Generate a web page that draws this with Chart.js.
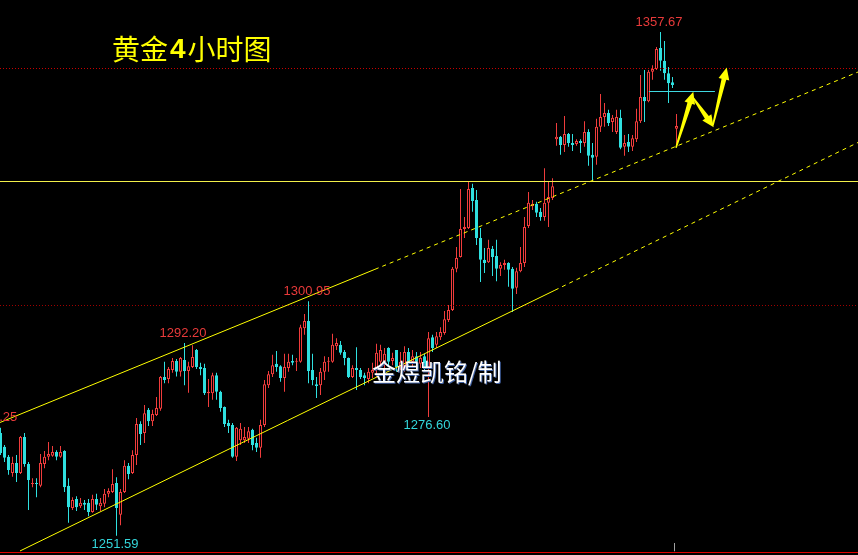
<!DOCTYPE html>
<html><head><meta charset="utf-8">
<script src="https://cdn.jsdelivr.net/npm/chart.js@4.4.0/dist/chart.umd.min.js"></script>
<style>html,body{margin:0;padding:0;background:#000;overflow:hidden}
#wrap{width:858px;height:555px;position:relative}
canvas{display:block}</style></head>
<body><div id="wrap"><canvas id="c" width="858" height="555"></canvas></div>
<script>
// ---- data (4-hour gold candles) ----
const opens=[1273.2,1270.3,1268.2,1264.8,1266.9,1264.8,1272.4,1266.7,1262.5,1262.7,
1262.1,1266.7,1268.2,1268.4,1269.2,1268.2,1269.4,1262.1,1257.4,1259.3,
1257.8,1258.5,1258.5,1256.6,1259.3,1257.8,1258.3,1260.4,1260.8,1262.7,
1256.0,1260.8,1266.3,1264.8,1268.6,1275.1,1273.2,1278.1,1275.7,1277.0,
1278.3,1285.0,1284.6,1286.5,1288.4,1286.1,1288.6,1286.3,1287.1,1290.7,
1287.1,1286.9,1281.6,1281.6,1285.4,1281.9,1278.7,1275.3,1274.9,1268.2,
1271.7,1271.7,1272.0,1273.9,1271.1,1270.1,1274.9,1283.3,1285.6,1287.8,
1287.3,1284.8,1286.9,1288.4,1288.2,1288.2,1295.3,1296.8,1286.5,1283.5,
1283.3,1286.1,1288.2,1288.2,1291.5,1291.8,1290.3,1289.0,1285.0,1286.9,
1286.5,1285.4,1284.6,1285.9,1286.5,1288.2,1288.2,1291.1,1288.4,1290.7,
1287.3,1286.9,1290.3,1288.2,1289.4,1287.8,1289.4,1287.1,1293.4,1291.8,
1293.4,1294.3,1297.0,1299.1,1307.8,1310.3,1316.2,1316.4,1324.8,1322.3,
1314.3,1309.7,1309.2,1312.0,1310.5,1307.8,1308.6,1309.0,1307.8,1303.8,
1307.3,1309.0,1316.8,1321.0,1321.5,1319.8,1318.7,1321.7,1322.7,1335.1,
1335.6,1333.9,1336.2,1334.3,1334.1,1334.7,1334.3,1336.6,1331.8,1331.4,
1337.7,1339.8,1340.6,1338.7,1336.6,1339.6,1333.5,1334.5,1333.5,1335.1,
1338.9,1344.0,1343.1,1349.3,1349.9,1354.3,1351.6,1349.0,1347.1,1337.3];
const highs=[1274.3,1270.7,1268.6,1268.2,1268.6,1272.6,1273.2,1267.1,1263.7,1263.7,
1268.8,1269.4,1271.3,1270.5,1269.6,1270.5,1269.6,1263.7,1259.7,1259.9,
1259.5,1259.1,1259.3,1260.2,1260.4,1259.5,1261.4,1261.6,1265.6,1263.9,
1261.4,1267.5,1266.9,1269.6,1276.4,1275.7,1279.1,1278.5,1278.1,1280.8,
1285.2,1288.2,1287.1,1289.0,1288.8,1289.2,1292.20,1288.2,1291.7,1290.9,
1288.0,1287.8,1284.6,1285.9,1285.9,1282.1,1278.8,1276.0,1275.3,1274.5,
1275.3,1274.5,1274.5,1274.1,1272.2,1276.0,1284.4,1286.3,1289.7,1290.5,
1287.5,1289.9,1289.9,1289.7,1289.0,1296.0,1298.3,1300.95,1289.9,1285.0,
1286.9,1289.4,1289.2,1294.1,1293.2,1292.6,1290.7,1289.1,1287.5,1291.3,
1286.9,1285.9,1286.9,1288.0,1292.0,1291.8,1291.1,1291.3,1290.1,1290.7,
1290.3,1291.5,1291.1,1290.7,1290.3,1290.3,1289.9,1294.5,1293.9,1294.5,
1295.5,1298.9,1300.2,1308.2,1312.4,1324.6,1318.7,1326.1,1325.7,1324.4,
1316.4,1312.2,1313.9,1312.6,1313.9,1309.2,1309.7,1309.2,1308.2,1308.0,
1312.4,1318.7,1324.0,1322.3,1321.9,1320.6,1329.0,1326.1,1326.9,1338.5,
1335.8,1340.0,1336.4,1336.2,1335.1,1335.1,1338.9,1337.2,1334.3,1339.4,
1344.6,1342.7,1341.3,1340.2,1341.3,1341.3,1336.0,1336.2,1336.0,1341.5,
1348.6,1349.7,1349.7,1350.7,1354.5,1357.67,1355.8,1350.3,1348.2,1340.4];
const lows=[1268.6,1267.1,1264.4,1264.0,1262.9,1264.6,1266.1,1257.0,1261.8,1259.7,
1261.8,1265.8,1267.5,1268.2,1267.5,1268.0,1260.8,1254.3,1257.0,1256.8,
1257.4,1257.0,1255.7,1256.4,1257.0,1256.8,1257.6,1259.7,1260.6,1251.59,
1253.8,1260.6,1263.5,1264.6,1266.5,1270.7,1271.1,1274.7,1274.7,1276.8,
1277.9,1283.7,1283.7,1285.9,1285.1,1285.1,1283.3,1281.7,1286.9,1286.7,
1285.4,1281.2,1278.7,1280.2,1280.2,1277.7,1274.5,1273.2,1268.0,1267.3,
1270.7,1271.1,1271.1,1269.6,1269.2,1268.0,1274.5,1282.7,1285.0,1286.1,
1284.0,1281.9,1286.1,1287.5,1286.3,1288.0,1293.9,1283.7,1283.3,1280.6,
1281.2,1284.4,1286.1,1288.0,1290.7,1289.7,1287.5,1284.8,1284.8,1282.3,
1284.6,1283.3,1283.7,1284.8,1285.0,1286.9,1286.1,1287.5,1287.5,1286.1,
1286.5,1286.1,1287.3,1286.9,1286.5,1286.9,1286.1,1276.60,1290.3,1291.1,
1292.8,1293.9,1296.6,1298.9,1307.1,1310.2,1314.3,1316.2,1319.8,1312.8,
1305.0,1306.9,1309.0,1306.3,1305.2,1306.3,1307.6,1304.0,1298.7,1302.5,
1307.1,1308.2,1316.4,1320.2,1318.7,1317.9,1317.9,1316.6,1322.3,1333.7,
1331.8,1332.4,1333.5,1332.6,1333.7,1332.2,1333.5,1329.5,1326.5,1329.7,
1336.6,1337.7,1337.9,1336.6,1336.2,1333.0,1331.6,1332.4,1332.6,1334.5,
1338.5,1338.7,1342.9,1347.6,1349.7,1349.5,1347.6,1342.7,1345.9,1333.5];
const closes=[1269.0,1268.0,1265.4,1266.9,1264.8,1272.4,1266.7,1263.3,1262.7,1262.5,
1266.9,1268.2,1268.8,1269.2,1268.2,1269.2,1261.8,1257.6,1259.1,1257.6,
1258.5,1258.1,1256.6,1259.3,1258.1,1258.5,1260.4,1261.0,1262.5,1257.4,
1260.8,1266.3,1264.6,1268.6,1275.1,1273.0,1277.4,1275.7,1277.2,1278.5,
1285.0,1284.4,1286.7,1288.4,1286.1,1289.0,1286.3,1287.3,1289.2,1287.1,
1286.7,1281.6,1281.9,1285.4,1281.9,1278.5,1275.1,1274.7,1268.2,1274.3,
1274.1,1272.4,1273.6,1270.7,1270.1,1274.9,1283.5,1285.6,1287.5,1287.1,
1284.8,1287.1,1288.2,1288.0,1288.4,1295.5,1296.8,1286.3,1284.4,1283.1,
1286.1,1288.2,1288.4,1291.8,1292.2,1290.1,1289.0,1285.0,1286.9,1286.5,
1285.0,1284.8,1286.1,1286.5,1290.1,1290.7,1289.9,1288.2,1289.0,1287.1,
1288.2,1290.3,1288.2,1289.4,1288.2,1289.0,1286.9,1293.2,1291.1,1293.6,
1294.5,1297.2,1299.1,1307.8,1310.1,1316.2,1316.6,1324.6,1322.1,1314.3,
1309.7,1309.0,1312.2,1310.3,1307.8,1308.6,1309.0,1307.6,1303.6,1307.3,
1309.0,1316.6,1321.7,1321.5,1319.6,1318.7,1321.7,1322.9,1325.2,1335.6,
1333.9,1336.2,1334.3,1333.9,1334.7,1334.3,1336.6,1331.6,1331.2,1337.7,
1339.8,1340.6,1338.5,1339.6,1339.8,1333.3,1334.3,1333.5,1335.3,1338.9,
1344.0,1343.1,1349.3,1349.9,1354.1,1351.6,1349.0,1346.9,1346.5,1337.9];
// marked extremes: candle index and whether the high or low is labelled
const markIdx=[165,77,46,107,29];
const markKind=['high','high','high','low','low'];
// horizontal levels
const levelPrices=[1350.0,1326.3,1300.2,1248.16];
// title / watermark text
const titleParts=['黄金','4','小时图'];
const watermark='金煜凯铭/制';

// ---- styling / view ----
const X_MIN=-0.125, X_MAX=214.375, Y_MIN=1247.52, Y_MAX=1364.42;
const UP='#f03c3c', DN='#2fe0e0';
const idx=opens.map((_,i)=>i);
const up=idx.map(i=>closes[i]>=opens[i]);
const wickData=idx.map(i=>({x:i,y:[lows[i],highs[i]]}));
const bodyData=idx.map(i=>({x:i,y:[opens[i],closes[i]]}));

const levelStyles=[
  {color:'#c80000',dash:[1,2]},
  {color:'#f2f04a',dash:[]},
  {color:'#a00000',dash:[1,2]},
  {color:'#e00000',dash:[]}
];

const bgPlugin={id:'bg',beforeDraw(ch){const c=ch.ctx;c.save();c.fillStyle='#000';c.fillRect(0,0,ch.width,ch.height);c.restore();}};

function arrow(ctx,x0,y0,x1,y1){
  const dx=x1-x0,dy=y1-y0,L=Math.hypot(dx,dy);const ux=dx/L,uy=dy/L;const nx=-uy,ny=ux;
  const hl=12,hw=5.5,w0=0.8,w1=2.4;const bx=x1-ux*hl,by=y1-uy*hl;
  ctx.beginPath();
  ctx.moveTo(x0+nx*w0,y0+ny*w0);ctx.lineTo(bx+nx*w1,by+ny*w1);ctx.lineTo(bx+nx*hw,by+ny*hw);
  ctx.lineTo(x1,y1);ctx.lineTo(bx-nx*hw,by-ny*hw);ctx.lineTo(bx-nx*w1,by-ny*w1);ctx.lineTo(x0-nx*w0,y0-ny*w0);
  ctx.closePath();ctx.fillStyle='#ffff00';ctx.fill();
}

const annoPlugin={id:'anno',afterDatasetsDraw(ch){
  const c=ch.ctx,xs=ch.scales.x,ys=ch.scales.y;
  const X=v=>xs.getPixelForValue(v),Y=v=>ys.getPixelForValue(v);
  c.save();
  // horizontal levels
  levelPrices.forEach((p,k)=>{const y=Math.round(Y(p))+0.5;c.beginPath();c.setLineDash(levelStyles[k].dash);
    c.strokeStyle=levelStyles[k].color;c.lineWidth=1;c.moveTo(0,y);c.lineTo(ch.width,y);c.stroke();});
  c.setLineDash([]);
  // trend channel lines (index, price anchors)
  const trends=[
    {a:[-0.125,1275.43],b:[214.375,1349.25],brk:93.6},
    {a:[4.875,1248.37],b:[214.375,1334.41],brk:138.6}
  ];
  trends.forEach(t=>{
    const pAt=i=>t.a[1]+(i-t.a[0])*(t.b[1]-t.a[1])/(t.b[0]-t.a[0]);
    c.strokeStyle='#ffff00';c.lineWidth=1;
    c.beginPath();c.setLineDash([]);c.moveTo(X(t.a[0]),Y(t.a[1]));c.lineTo(X(t.brk),Y(pAt(t.brk)));c.stroke();
    c.beginPath();c.setLineDash([4,4]);c.moveTo(X(t.brk),Y(pAt(t.brk)));c.lineTo(X(t.b[0]),Y(t.b[1]));c.stroke();
  });
  c.setLineDash([]);
  // cyan short horizontal
  const cy=Math.round(Y(1345.25))+0.5;
  c.strokeStyle='#3fd8e0';c.beginPath();c.moveTo(X(162.1),cy);c.lineTo(X(178.6),cy);c.stroke();
  // gray current-bar tick
  const gx=Math.round(X(168.4))+0.5;
  c.strokeStyle='#a0a0a0';c.beginPath();c.moveTo(gx,Y(1250.05));c.lineTo(gx,Y(1248.3));c.stroke();
  // arrows
  arrow(c,X(168.875),Y(1333.3),X(173.2),Y(1345.1));
  arrow(c,X(173.1),Y(1343.9),X(178.3),Y(1337.6));
  arrow(c,X(178.1),Y(1338.0),X(181.55),Y(1350.2));
  // extreme labels
  c.font='13px "Liberation Sans", Arial, sans-serif';c.textAlign='center';c.textBaseline='middle';
  markIdx.forEach((i,k)=>{
    const hi=markKind[k]==='high';const v=hi?highs[i]:lows[i];
    c.fillStyle=hi?'#e83a3a':'#33d6da';
    c.fillText(v.toFixed(2),X(i)-1.5,Y(v)+(hi?-9.5:8.5));
  });
  c.fillStyle='#e83a3a';c.textAlign='right';c.fillText('1275.25',X(4.2),Y(1276.4));
  // title
  c.textAlign='left';c.textBaseline='middle';c.fillStyle='#ffff00';
  let tx=112;const ty=49;
  c.font='28px "Noto Sans CJK SC", sans-serif';c.fillText(titleParts[0],tx,ty);tx+=c.measureText(titleParts[0]).width+2;
  c.font='bold 28px "Liberation Sans", Arial, sans-serif';c.fillText(titleParts[1],tx,ty+1);tx+=c.measureText(titleParts[1]).width+2;
  c.font='28px "Noto Sans CJK SC", sans-serif';c.fillText(titleParts[2],tx,ty);
  // watermark
  c.font='24px "Noto Sans CJK SC", sans-serif';c.fillStyle='#4060a0';c.fillText(watermark,373,373);
  c.fillStyle='#ffffff';c.fillText(watermark,372,372);
  c.restore();
}};

new Chart(document.getElementById('c'),{
  type:'bar',
  data:{datasets:[
    {label:'wick',data:wickData,backgroundColor:idx.map(i=>up[i]?UP:DN),borderWidth:0,barThickness:1,
     grouped:false,order:2,inflateAmount:0},
    {label:'body',data:bodyData,backgroundColor:idx.map(i=>up[i]?'#000000':DN),borderColor:idx.map(i=>up[i]?UP:DN),
     borderWidth:1,borderSkipped:false,barThickness:3,minBarLength:1,grouped:false,order:1,inflateAmount:0}
  ]},
  options:{responsive:false,animation:false,devicePixelRatio:1,
    layout:{padding:0},
    plugins:{legend:{display:false},tooltip:{enabled:false},title:{display:false}},
    scales:{
      x:{type:'linear',min:X_MIN,max:X_MAX,display:false,offset:false,grid:{display:false}},
      y:{type:'linear',min:Y_MIN,max:Y_MAX,display:false,grid:{display:false}}
    }
  },
  plugins:[bgPlugin,annoPlugin]
});
</script></body></html>
